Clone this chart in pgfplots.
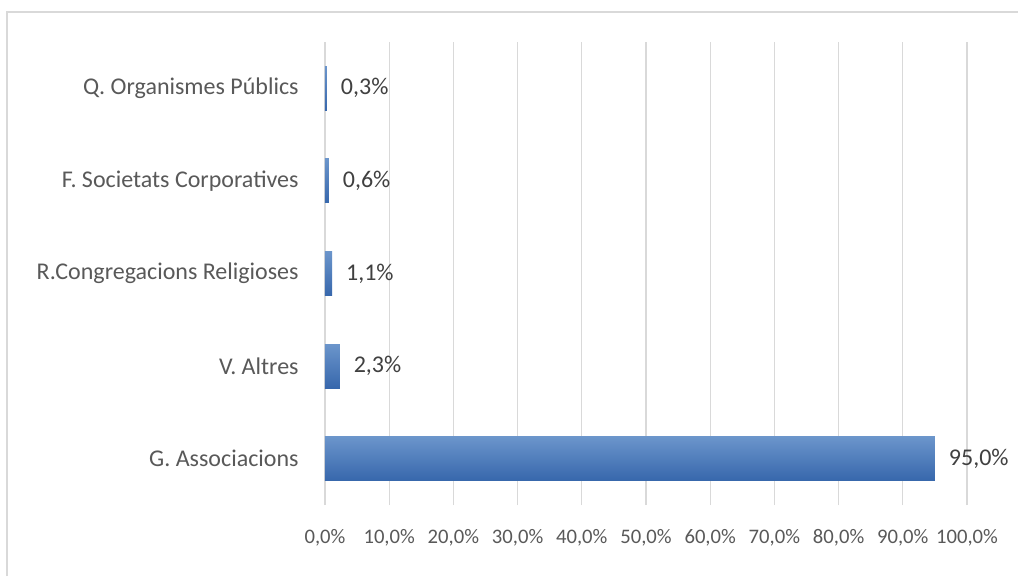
\documentclass[border=0pt]{standalone}
\usepackage{pgfplots}
\pgfplotsset{compat=1.18}
\usepackage{fontspec}
\setmainfont{Carlito}
\definecolor{txt}{HTML}{595959}
\definecolor{lbl}{HTML}{404040}
\definecolor{gridc}{HTML}{D9D9D9}
\definecolor{frame}{HTML}{D9D9D9}
\definecolor{barTop}{HTML}{6B95CB}
\definecolor{barMid}{HTML}{4A7EC1}
\definecolor{barBot}{HTML}{3767AC}
\pgfplotsset{barsty/.style={draw=none, top color=barTop, middle color=barMid, bottom color=barBot}}
\begin{document}
\begin{tikzpicture}
\fill[white] (0,0) rectangle (763.5pt,432pt);
\useasboundingbox (0,0) rectangle (763.5pt,432pt);
\draw[frame, line width=1.6pt] (5.25pt,0) -- (5.25pt,423pt) -- (763.5pt,423pt);
\begin{axis}[
  at={(243.75pt,53.25pt)}, anchor=south west,
  scale only axis,
  width=481.5pt, height=347.25pt,
  xbar, bar width=33pt, bar shift=0pt,
  xmin=0, xmax=100, ymin=-0.5, ymax=4.5,
  ytick={0,1,2,3,4},
  yticklabels={G. Associacions, V. Altres, R.Congregacions Religioses, F. Societats Corporatives, Q. Organismes Públics},
  xtick={0,10,...,100},
  xmajorgrids, grid style={gridc, line width=0.8pt},
  axis line style={draw=none},
  tick style={draw=none},
  /pgf/number format/assume math mode=true,
  xticklabel={\pgfmathprintnumber[fixed,fixed zerofill,precision=1,use comma]{\tick}\%},
  yticklabel style={font=\fontsize{18}{21}\selectfont, text=txt, xshift=-12pt},
  xticklabel style={font=\fontsize{15.5}{18}\selectfont, text=txt, yshift=-18pt, inner sep=0pt},
  point meta=x,
  nodes near coords={\pgfmathprintnumber[fixed,fixed zerofill,precision=1,use comma]{\pgfplotspointmeta}\%},
  nodes near coords style={font=\fontsize{18}{21}\selectfont, text=lbl, xshift=7pt},
]
\addplot[barsty] coordinates {(95.0,0)};
\addplot[barsty] coordinates {(2.3,1)};
\addplot[barsty] coordinates {(1.1,2)};
\addplot[barsty] coordinates {(0.6,3)};
\addplot[barsty] coordinates {(0.3,4)};
\end{axis}
\end{tikzpicture}
\end{document}
